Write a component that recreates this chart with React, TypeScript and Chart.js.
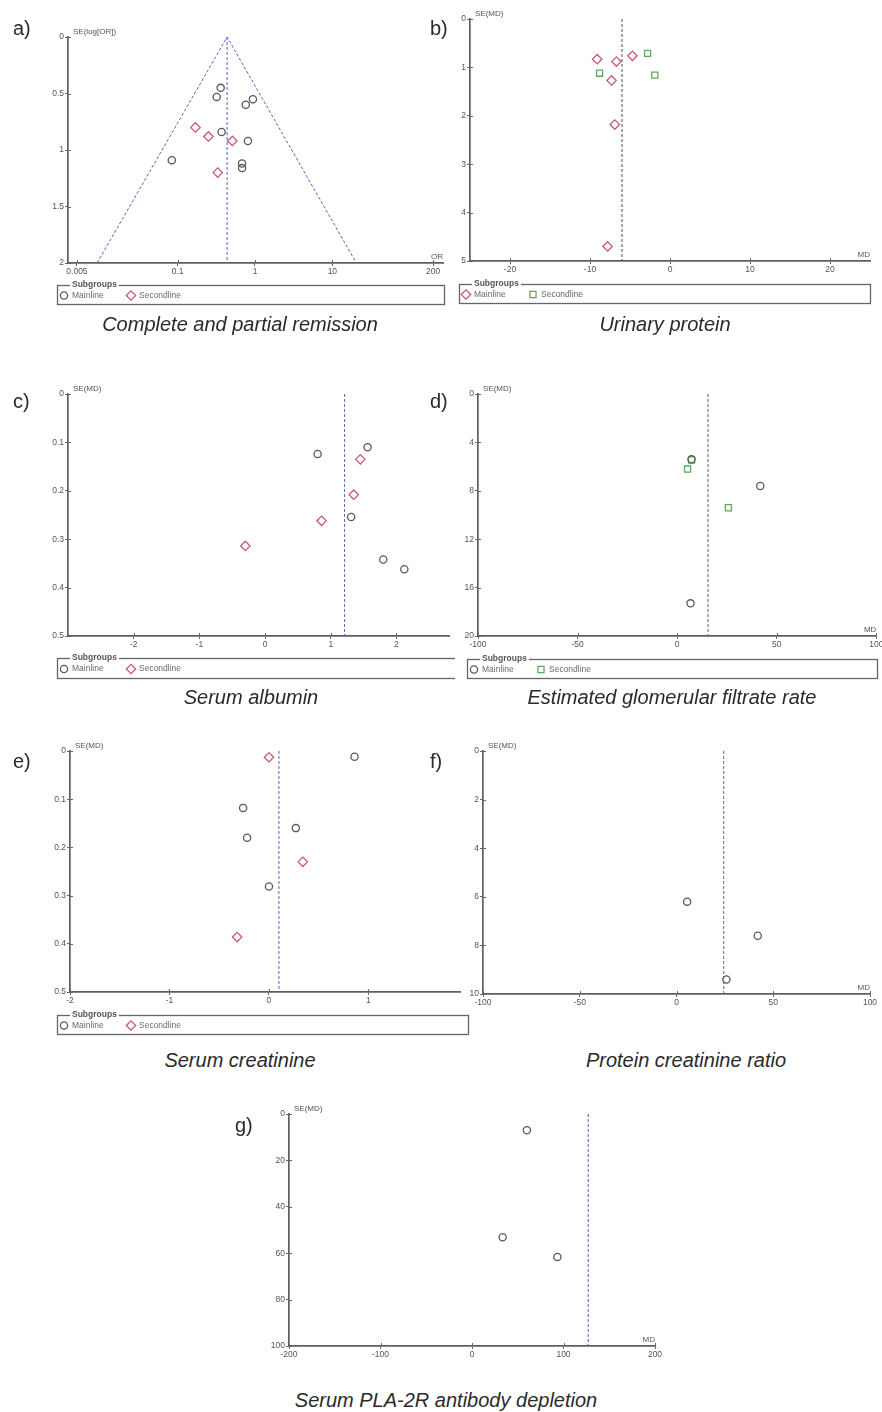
import React, { useEffect, useRef } from "react";
import { Chart, registerables } from "chart.js";

Chart.register(...registerables);

const FONT = "Arial, 'Liberation Sans', Helvetica, sans-serif";

// ---------------- DATA ----------------
// a) Complete and partial remission
const aMainlineOR = [0.36, 0.32, 0.94, 0.76, 0.37, 0.81, 0.084, 0.68, 0.68];
const aMainlineSE = [0.45, 0.53, 0.55, 0.6, 0.84, 0.92, 1.09, 1.12, 1.16];
const aSecondlineOR = [0.17, 0.25, 0.51, 0.33];
const aSecondlineSE = [0.8, 0.88, 0.92, 1.2];
const aPooledOR = 0.436;
const aFunnelOR = [0.0091, 0.436, 20.4];
const aFunnelSE = [2, 0, 2];
const aXTicks = [0.005, 0.1, 1, 10, 200];
const aYTicks = [0, 0.5, 1, 1.5, 2];

// b) Urinary protein
const bMainlineMD = [-9.1, -6.7, -4.7, -7.3, -6.9, -7.8];
const bMainlineSE = [0.83, 0.88, 0.76, 1.27, 2.18, 4.7];
const bSecondlineMD = [-2.8, -8.8, -1.9];
const bSecondlineSE = [0.71, 1.12, 1.16];
const bPooledMD = -6.0;
const bXTicks = [-20, -10, 0, 10, 20];
const bYTicks = [0, 1, 2, 3, 4, 5];

// c) Serum albumin
const cMainlineMD = [0.8, 1.56, 1.31, 1.8, 2.12];
const cMainlineSE = [0.124, 0.11, 0.254, 0.342, 0.362];
const cSecondlineMD = [1.45, 1.35, 0.86, -0.3];
const cSecondlineSE = [0.135, 0.208, 0.262, 0.314];
const cPooledMD = 1.21;
const cXTicks = [-2, -1, 0, 1, 2];
const cYTicks = [0, 0.1, 0.2, 0.3, 0.4, 0.5];

// d) Estimated glomerular filtrate rate
const dMainlineMD = [7.2, 41.7, 6.7];
const dMainlineSE = [5.4, 7.6, 17.3];
const dSecondlineMD = [7.2, 5.2, 25.7];
const dSecondlineSE = [5.45, 6.2, 9.4];
const dPooledMD = 15.5;
const dXTicks = [-100, -50, 0, 50, 100];
const dYTicks = [0, 4, 8, 12, 16, 20];

// e) Serum creatinine
const eMainlineMD = [0.86, -0.26, -0.22, 0.27, 0.0];
const eMainlineSE = [0.012, 0.118, 0.18, 0.16, 0.281];
const eSecondlineMD = [0.0, 0.34, -0.32];
const eSecondlineSE = [0.013, 0.23, 0.386];
const ePooledMD = 0.1;
const eXTicks = [-2, -1, 0, 1];
const eYTicks = [0, 0.1, 0.2, 0.3, 0.4, 0.5];

// f) Protein creatinine ratio
const fMainlineMD = [5.5, 42, 25.8];
const fMainlineSE = [6.2, 7.6, 9.4];
const fPooledMD = 24.4;
const fXTicks = [-100, -50, 0, 50, 100];
const fYTicks = [0, 2, 4, 6, 8, 10];

// g) Serum PLA-2R antibody depletion
const gMainlineMD = [60, 33.5, 93.3];
const gMainlineSE = [7.0, 53.1, 61.6];
const gPooledMD = 127;
const gXTicks = [-200, -100, 0, 100, 200];
const gYTicks = [0, 20, 40, 60, 80, 100];

const LEGEND_TITLE = "Subgroups";
const LABEL_MAIN = "Mainline";
const LABEL_SECOND = "Secondline";

// ---------------- STYLES ----------------
type Marker = { style: "circle" | "rectRot" | "rect"; radius: number; color: string };
const CIRCLE: Marker = { style: "circle", radius: 3.6, color: "#5a5a5a" };
const DIAMOND: Marker = { style: "rectRot", radius: 4.7, color: "#c85a6e" };
const SQUARE: Marker = { style: "rect", radius: 4.3, color: "#5cab5c" };

type Pt = { x: number; y: number };
const zip = (xs: number[], ys: number[]): Pt[] => xs.map((x, i) => ({ x, y: ys[i] }));
const vline = (x: number, yMax: number): Pt[] => [
  { x, y: 0 },
  { x, y: yMax },
];

interface Rect { left: number; top: number; width: number; height: number }
interface Area { left: number; top: number; right: number; bottom: number }
interface PanelCfg {
  canvas: Rect;
  area: Area;
  xLog?: boolean;
  xMin: number;
  xMax: number;
  xTicks: number[];
  yTicks: number[];
  yTitle: string;
  xTitle?: string;
  series: { data: Pt[]; marker: Marker }[];
  ref: { data: Pt[]; color: string };
  funnel?: { data: Pt[]; color: string };
  legend?: { area: Area; items: { label: string; marker: Marker }[] };
}

const PANELS: PanelCfg[] = [
  {
    canvas: { left: 0, top: 10, width: 452, height: 300 },
    area: { left: 68, top: 37, right: 443, bottom: 263 },
    xLog: true,
    xMin: 0.00383,
    xMax: 269,
    xTicks: aXTicks,
    yTicks: aYTicks,
    yTitle: "SE(log[OR])",
    xTitle: "OR",
    series: [
      { data: zip(aMainlineOR, aMainlineSE), marker: CIRCLE },
      { data: zip(aSecondlineOR, aSecondlineSE), marker: DIAMOND },
    ],
    ref: { data: vline(aPooledOR, 2), color: "#5b5bcc" },
    funnel: { data: zip(aFunnelOR, aFunnelSE), color: "#6060cc" },
    legend: {
      area: { left: 57, top: 285, right: 444, bottom: 304 },
      items: [
        { label: LABEL_MAIN, marker: CIRCLE },
        { label: LABEL_SECOND, marker: DIAMOND },
      ],
    },
  },
  {
    canvas: { left: 440, top: 0, width: 442, height: 315 },
    area: { left: 470, top: 19, right: 870, bottom: 261 },
    xMin: -25,
    xMax: 25,
    xTicks: bXTicks,
    yTicks: bYTicks,
    yTitle: "SE(MD)",
    xTitle: "MD",
    series: [
      { data: zip(bMainlineMD, bMainlineSE), marker: DIAMOND },
      { data: zip(bSecondlineMD, bSecondlineSE), marker: SQUARE },
    ],
    ref: { data: vline(bPooledMD, 5), color: "#4a4a55" },
    legend: {
      area: { left: 459, top: 284, right: 870, bottom: 303 },
      items: [
        { label: LABEL_MAIN, marker: DIAMOND },
        { label: LABEL_SECOND, marker: SQUARE },
      ],
    },
  },
  {
    canvas: { left: 0, top: 370, width: 455, height: 320 },
    area: { left: 68, top: 394, right: 455, bottom: 636 },
    xMin: -3,
    xMax: 2.8,
    xTicks: cXTicks,
    yTicks: cYTicks,
    yTitle: "SE(MD)",
    series: [
      { data: zip(cMainlineMD, cMainlineSE), marker: CIRCLE },
      { data: zip(cSecondlineMD, cSecondlineSE), marker: DIAMOND },
    ],
    ref: { data: vline(cPooledMD, 0.5), color: "#6666bb" },
    legend: {
      area: { left: 57, top: 658, right: 475, bottom: 678 },
      items: [
        { label: LABEL_MAIN, marker: CIRCLE },
        { label: LABEL_SECOND, marker: DIAMOND },
      ],
    },
  },
  {
    canvas: { left: 445, top: 370, width: 437, height: 320 },
    area: { left: 478, top: 394, right: 877, bottom: 636 },
    xMin: -100,
    xMax: 100,
    xTicks: dXTicks,
    yTicks: dYTicks,
    yTitle: "SE(MD)",
    xTitle: "MD",
    series: [
      { data: zip(dMainlineMD, dMainlineSE), marker: CIRCLE },
      { data: zip(dSecondlineMD, dSecondlineSE), marker: SQUARE },
    ],
    ref: { data: vline(dPooledMD, 20), color: "#60606e" },
    legend: {
      area: { left: 467, top: 659, right: 877, bottom: 678 },
      items: [
        { label: LABEL_MAIN, marker: CIRCLE },
        { label: LABEL_SECOND, marker: SQUARE },
      ],
    },
  },
  {
    canvas: { left: 0, top: 730, width: 470, height: 315 },
    area: { left: 70, top: 751, right: 460, bottom: 992 },
    xMin: -2,
    xMax: 1.92,
    xTicks: eXTicks,
    yTicks: eYTicks,
    yTitle: "SE(MD)",
    series: [
      { data: zip(eMainlineMD, eMainlineSE), marker: CIRCLE },
      { data: zip(eSecondlineMD, eSecondlineSE), marker: DIAMOND },
    ],
    ref: { data: vline(ePooledMD, 0.5), color: "#5d5dbb" },
    legend: {
      area: { left: 57, top: 1015, right: 468, bottom: 1034 },
      items: [
        { label: LABEL_MAIN, marker: CIRCLE },
        { label: LABEL_SECOND, marker: DIAMOND },
      ],
    },
  },
  {
    canvas: { left: 440, top: 730, width: 442, height: 282 },
    area: { left: 483, top: 751, right: 870, bottom: 994 },
    xMin: -100,
    xMax: 100,
    xTicks: fXTicks,
    yTicks: fYTicks,
    yTitle: "SE(MD)",
    xTitle: "MD",
    series: [{ data: zip(fMainlineMD, fMainlineSE), marker: CIRCLE }],
    ref: { data: vline(fPooledMD, 10), color: "#62628e" },
  },
  {
    canvas: { left: 200, top: 1090, width: 480, height: 275 },
    area: { left: 289, top: 1114, right: 655, bottom: 1346 },
    xMin: -200,
    xMax: 200,
    xTicks: gXTicks,
    yTicks: gYTicks,
    yTitle: "SE(MD)",
    xTitle: "MD",
    series: [{ data: zip(gMainlineMD, gMainlineSE), marker: CIRCLE }],
    ref: { data: vline(gPooledMD, 100), color: "#5b5bcc" },
  },
];

const TEXTS = [
  { text: "a)", left: 13, top: 18, kind: "letter" },
  { text: "b)", left: 430, top: 18, kind: "letter" },
  { text: "c)", left: 13, top: 391, kind: "letter" },
  { text: "d)", left: 430, top: 391, kind: "letter" },
  { text: "e)", left: 13, top: 751, kind: "letter" },
  { text: "f)", left: 430, top: 751, kind: "letter" },
  { text: "g)", left: 235, top: 1115, kind: "letter" },
  { text: "Complete and partial remission", left: 240, top: 314, kind: "title" },
  { text: "Urinary protein", left: 665, top: 314, kind: "title" },
  { text: "Serum albumin", left: 251, top: 687, kind: "title" },
  { text: "Estimated glomerular filtrate rate", left: 672, top: 687, kind: "title" },
  { text: "Serum creatinine", left: 240, top: 1050, kind: "title" },
  { text: "Protein creatinine ratio", left: 686, top: 1050, kind: "title" },
  { text: "Serum PLA-2R antibody depletion", left: 446, top: 1390, kind: "title" },
];

// ---------------- CHART BUILD ----------------
const YW = 30;
const XH = 16;
const AXIS = "#5f5f5f";
const TICK = "#666";
const LABEL = "#555";

function drawMarker(ctx: CanvasRenderingContext2D, m: Marker, x: number, y: number) {
  ctx.save();
  ctx.strokeStyle = m.color;
  ctx.lineWidth = 1.3;
  ctx.beginPath();
  if (m.style === "circle") {
    ctx.arc(x, y, m.radius, 0, Math.PI * 2);
  } else if (m.style === "rectRot") {
    ctx.moveTo(x - m.radius, y);
    ctx.lineTo(x, y - m.radius);
    ctx.lineTo(x + m.radius, y);
    ctx.lineTo(x, y + m.radius);
    ctx.closePath();
  } else {
    const s = m.radius * Math.SQRT1_2;
    ctx.rect(x - s, y - s, 2 * s, 2 * s);
  }
  ctx.stroke();
  ctx.restore();
}

function decorPlugin(cfg: PanelCfg) {
  return {
    id: "decor",
    afterDraw(chart: any) {
      const { ctx, chartArea: ca, scales } = chart;
      const ox = cfg.canvas.left;
      const oy = cfg.canvas.top;
      ctx.save();
      // inner halves of tick marks (ticks cross the axis)
      ctx.strokeStyle = TICK;
      ctx.lineWidth = 1;
      ctx.beginPath();
      scales.y.ticks.forEach((t: any) => {
        const p = Math.round(scales.y.getPixelForValue(t.value)) + 0.5;
        ctx.moveTo(ca.left, p);
        ctx.lineTo(ca.left + 3, p);
      });
      scales.x.ticks.forEach((t: any) => {
        const p = Math.round(scales.x.getPixelForValue(t.value)) + 0.5;
        ctx.moveTo(p, ca.bottom);
        ctx.lineTo(p, ca.bottom - 3);
      });
      ctx.stroke();
      // axis titles
      ctx.fillStyle = LABEL;
      ctx.font = `8px ${FONT}`;
      ctx.textBaseline = "middle";
      ctx.textAlign = "left";
      ctx.fillText(cfg.yTitle, ca.left + 5, ca.top - 5);
      if (cfg.xTitle) {
        ctx.textAlign = "right";
        ctx.fillText(cfg.xTitle, ca.right, ca.bottom - 6);
      }
      // legend box
      if (cfg.legend) {
        const L = cfg.legend.area;
        const x0 = L.left - ox;
        const y0 = L.top - oy;
        const w = L.right - L.left;
        const h = L.bottom - L.top;
        ctx.strokeStyle = "#666";
        ctx.lineWidth = 1.3;
        ctx.strokeRect(x0 + 0.5, y0 + 0.5, w, h);
        ctx.font = `bold 8.5px ${FONT}`;
        const tw = ctx.measureText(LEGEND_TITLE).width;
        ctx.fillStyle = "#fff";
        ctx.fillRect(x0 + 13, y0 - 3, tw + 4, 7);
        ctx.fillStyle = "#555";
        ctx.textAlign = "left";
        ctx.fillText(LEGEND_TITLE, x0 + 15, y0);
        const cy = y0 + h / 2 + 1;
        cfg.legend.items.forEach((it, i) => {
          drawMarker(ctx, it.marker, x0 + (i === 0 ? 7 : 74), cy);
          ctx.font = `8.5px ${FONT}`;
          ctx.fillStyle = "#6a6a6a";
          ctx.fillText(it.label, x0 + (i === 0 ? 15 : 82), cy);
        });
      }
      ctx.restore();
    },
  };
}

function buildConfig(cfg: PanelCfg): any {
  const { canvas: cv, area } = cfg;
  const padding = {
    left: area.left - cv.left - YW,
    top: area.top - cv.top,
    right: cv.left + cv.width - area.right,
    bottom: cv.top + cv.height - area.bottom - XH,
  };
  const yMax = cfg.yTicks[cfg.yTicks.length - 1];
  const datasets: any[] = [];
  cfg.series.forEach((s) => {
    datasets.push({
      data: s.data,
      showLine: false,
      pointStyle: s.marker.style,
      pointRadius: s.marker.radius,
      pointBorderWidth: 1.3,
      pointBorderColor: s.marker.color,
      borderColor: s.marker.color,
      pointBackgroundColor: "rgba(0,0,0,0)",
      backgroundColor: "rgba(0,0,0,0)",
      clip: false,
    });
  });
  datasets.push({
    data: cfg.ref.data,
    showLine: true,
    borderColor: cfg.ref.color,
    borderWidth: 1,
    borderDash: [3, 2],
    pointRadius: 0,
    clip: false,
  });
  if (cfg.funnel) {
    datasets.push({
      data: cfg.funnel.data,
      showLine: true,
      borderColor: cfg.funnel.color,
      borderWidth: 1,
      borderDash: [3, 2],
      pointRadius: 0,
      clip: false,
    });
  }
  const tickFont = { family: FONT, size: 8.5 };
  return {
    type: "scatter",
    data: { datasets },
    options: {
      animation: false,
      responsive: false,
      maintainAspectRatio: false,
      events: [],
      layout: { padding },
      plugins: { legend: { display: false }, tooltip: { enabled: false }, title: { display: false } },
      scales: {
        x: {
          type: cfg.xLog ? "logarithmic" : "linear",
          min: cfg.xMin,
          max: cfg.xMax,
          afterBuildTicks: (s: any) => {
            s.ticks = cfg.xTicks.map((v) => ({ value: v }));
          },
          afterFit: (s: any) => {
            s.height = XH;
            s.paddingLeft = 0;
            s.paddingRight = 0;
          },
          ticks: {
            font: tickFont,
            color: LABEL,
            padding: 1,
            maxRotation: 0,
            autoSkip: false,
            callback: (v: any) => String(v),
          },
          grid: { display: true, drawOnChartArea: false, drawTicks: true, tickLength: 3, color: TICK, lineWidth: 1 },
          border: { display: true, color: AXIS, width: 1.7 },
        },
        y: {
          type: "linear",
          reverse: true,
          min: 0,
          max: yMax,
          afterBuildTicks: (s: any) => {
            s.ticks = cfg.yTicks.map((v) => ({ value: v }));
          },
          afterFit: (s: any) => {
            s.width = YW;
            s.paddingTop = 0;
            s.paddingBottom = 0;
          },
          ticks: {
            font: tickFont,
            color: LABEL,
            padding: 1,
            autoSkip: false,
            callback: (v: any) => String(v),
          },
          grid: { display: true, drawOnChartArea: false, drawTicks: true, tickLength: 3, color: TICK, lineWidth: 1 },
          border: { display: true, color: AXIS, width: 1.7 },
        },
      },
    },
    plugins: [decorPlugin(cfg)],
  };
}

function PanelChart({ cfg }: { cfg: PanelCfg }) {
  const ref = useRef<HTMLCanvasElement>(null);
  useEffect(() => {
    if (!ref.current) return;
    const chart = new Chart(ref.current, buildConfig(cfg));
    return () => chart.destroy();
  }, [cfg]);
  const c = cfg.canvas;
  return (
    <canvas
      ref={ref}
      width={c.width}
      height={c.height}
      style={{ position: "absolute", left: c.left, top: c.top, width: c.width, height: c.height }}
    />
  );
}

export default function App() {
  return (
    <div
      style={{
        position: "absolute",
        left: 0,
        top: 0,
        width: 882,
        height: 1412,
        background: "#fff",
        overflow: "hidden",
        fontFamily: FONT,
      }}
    >
      {PANELS.map((p, i) => (
        <PanelChart key={i} cfg={p} />
      ))}
      {TEXTS.map((t, i) =>
        t.kind === "letter" ? (
          <div
            key={"t" + i}
            style={{
              position: "absolute",
              left: t.left,
              top: t.top,
              fontSize: 20,
              lineHeight: "20px",
              color: "#2a2a2a",
              whiteSpace: "nowrap",
            }}
          >
            {t.text}
          </div>
        ) : (
          <div
            key={"t" + i}
            style={{
              position: "absolute",
              left: t.left - 250,
              width: 500,
              top: t.top,
              textAlign: "center",
              fontSize: 20,
              lineHeight: "20px",
              fontStyle: "italic",
              color: "#2a2a2a",
              whiteSpace: "nowrap",
            }}
          >
            {t.text}
          </div>
        )
      )}
    </div>
  );
}
